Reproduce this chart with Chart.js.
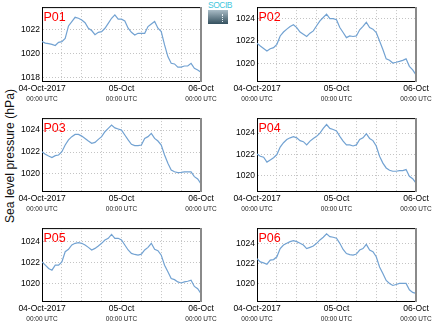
<!DOCTYPE html>
<html>
<head>
<meta charset="utf-8">
<script src="https://cdn.jsdelivr.net/npm/chart.js@4.4.0/dist/chart.umd.min.js"></script>
<style>
  html, body { margin: 0; padding: 0; background: #fff; }
  #wrap { position: relative; width: 435px; height: 327px; overflow: hidden;
          font-family: 'Liberation Sans', Arial, Helvetica, sans-serif; }
  #wrap canvas { position: absolute; }
  #ytitle { position: absolute; left: 9.5px; top: 156px; white-space: nowrap;
            font-size: 12.2px; color: #111; line-height: 1;
            transform: translate(-50%, -50%) rotate(-90deg); }
  #logo { position: absolute; left: 208px; top: 2px; width: 20px; }
  #logo .name { font-size: 8.5px; color: #3fc6dc; text-align: center;
                line-height: 7px; letter-spacing: -0.5px; }
  #logo .box { margin-top: 1px; height: 14px; position: relative;
               background: linear-gradient(#a9bcc6, #34505e); }
  #logo .box i { position: absolute; left: 14px; top: 4px; height: 8px;
                 border-left: 1px dotted #e8f0f4; }
</style>
</head>
<body>
<div id="wrap">
  <div id="ytitle">Sea level pressure (hPa)</div>
  <div id="logo"><div class="name">SOCIB</div><div class="box"><i></i></div></div>
</div>
<script>
// Hours since 04-Oct-2017 00:00 UTC
const hours = [0,1,2,3,4,5,6,7,8,9,10,11,12,13,14,15,16,17,18,19,20,21,22,23,24,
               25,26,27,28,29,30,31,32,33,34,35,36,37,38,39,40,41,42,43,44,45,46,47,48];

// Hourly sea level pressure (hPa) at each station
const p01 = [1021.03,1020.90,1020.86,1020.80,1020.70,1020.97,1021.03,1021.30,1022.33,1022.70,
             1023.05,1022.97,1022.83,1022.60,1022.14,1021.95,1021.60,1021.80,1021.86,1022.14,
             1022.55,1022.97,1023.25,1022.90,1022.90,1022.75,1022.14,1021.80,1021.58,1021.72,
             1021.72,1021.72,1022.28,1022.50,1022.70,1022.14,1021.86,1020.75,1019.78,1019.22,
             1019.17,1018.90,1018.90,1019.00,1019.00,1019.22,1018.80,1018.67,1018.47];
const p02 = [1021.79,1021.55,1021.33,1021.10,1021.30,1021.40,1021.70,1022.45,1022.80,1023.06,
             1023.30,1023.45,1023.20,1022.80,1022.60,1022.40,1022.70,1022.90,1023.36,1023.80,
             1024.10,1024.40,1024.00,1024.00,1023.90,1023.20,1022.76,1022.30,1022.45,1022.40,
             1022.45,1023.00,1023.30,1023.67,1023.20,1023.06,1022.76,1022.00,1021.24,1020.40,
             1020.27,1020.03,1020.10,1020.18,1020.27,1020.40,1019.73,1019.42,1018.97];
const p03 = [1022.03,1021.80,1021.64,1021.50,1021.67,1021.73,1022.03,1022.64,1023.10,1023.40,
             1023.60,1023.60,1023.45,1023.24,1023.00,1022.80,1022.88,1023.15,1023.40,1023.85,
             1024.15,1024.45,1024.20,1024.10,1024.00,1023.55,1023.10,1022.70,1022.58,1022.58,
             1022.64,1023.24,1023.40,1023.70,1023.24,1023.00,1022.64,1021.73,1020.97,1020.36,
             1020.20,1020.12,1020.15,1020.20,1020.20,1020.20,1019.76,1019.55,1019.10];
const p04 = [1022.06,1021.84,1021.75,1021.30,1021.50,1021.70,1022.00,1022.70,1023.10,1023.40,
             1023.56,1023.66,1023.56,1023.30,1023.20,1022.90,1023.25,1023.50,1023.70,1024.00,
             1024.44,1024.80,1024.44,1024.34,1024.20,1023.70,1023.25,1022.90,1022.90,1022.80,
             1022.90,1023.40,1023.56,1023.94,1023.50,1023.30,1022.80,1021.84,1021.20,1020.75,
             1020.53,1020.44,1020.44,1020.50,1020.50,1020.60,1019.97,1019.75,1019.34];
const p05 = [1022.06,1021.74,1021.42,1021.26,1021.74,1021.74,1022.06,1023.03,1023.26,1023.68,
             1023.84,1023.90,1023.84,1023.68,1023.45,1023.20,1023.35,1023.58,1023.84,1024.16,
             1024.32,1024.70,1024.32,1024.32,1024.16,1023.68,1023.20,1022.87,1022.77,1022.70,
             1022.80,1023.20,1023.45,1023.84,1023.26,1023.13,1022.70,1021.74,1021.10,1020.45,
             1020.35,1020.13,1020.03,1020.13,1020.20,1020.30,1019.70,1019.48,1019.00];
const p06 = [1022.50,1022.17,1022.07,1021.93,1022.34,1022.40,1022.68,1023.50,1023.86,1024.03,
             1024.20,1024.30,1024.20,1024.03,1023.86,1023.50,1023.63,1023.76,1024.03,1024.37,
             1024.64,1024.98,1024.70,1024.64,1024.54,1024.03,1023.42,1023.00,1022.90,1022.85,
             1022.95,1023.36,1023.50,1023.93,1023.36,1023.20,1022.68,1021.66,1021.00,1020.30,
             1020.00,1019.80,1019.90,1020.00,1020.00,1020.00,1019.36,1019.10,1019.00];

const stationNames = ['P01', 'P02', 'P03', 'P04', 'P05', 'P06'];
const stationSeries = [p01, p02, p03, p04, p05, p06];
const yMins = [1017.75, 1018.42, 1018.45, 1018.60, 1018.30, 1018.24];
const yMaxs = [1023.90, 1025.03, 1025.09, 1025.40, 1025.30, 1025.56];

// Bottom axis labels: date on the first line, time on the second
const dayLabels = { 0: '04-Oct-2017', 24: '05-Oct', 48: '06-Oct' };
const timeLabel = '00:00 UTC';

const FONT = "'Liberation Sans', Arial, Helvetica, sans-serif";
const LINE = '#72a2d2';

// Frame (top black, right grey) and the red station tag
const framePlugin = {
  id: 'frame',
  afterDraw(chart, args, opts) {
    const { ctx, chartArea: a } = chart;
    ctx.save();
    ctx.strokeStyle = '#000';
    ctx.lineWidth = 1;
    ctx.beginPath();
    ctx.moveTo(a.left, a.top + 0.5);
    ctx.lineTo(a.right, a.top + 0.5);
    ctx.stroke();
    ctx.strokeStyle = '#8a8a8a';
    ctx.lineWidth = 2;
    ctx.beginPath();
    ctx.moveTo(a.right, a.top);
    ctx.lineTo(a.right, a.bottom + 1);
    ctx.stroke();
    ctx.fillStyle = '#ff0000';
    ctx.font = '12.5px ' + FONT;
    ctx.textBaseline = 'alphabetic';
    ctx.textAlign = 'left';
    ctx.fillText(opts.name, a.left + 1.5, a.top + 14);
    ctx.restore();
  }
};

const wrap = document.getElementById('wrap');
const colLeft = [0, 215];
const rowTop = [0, 111, 221];
const rowHeight = [105, 104, 104];

stationSeries.forEach((series, i) => {
  const col = i % 2, row = Math.floor(i / 2);
  const canvas = document.createElement('canvas');
  canvas.width = 220;
  canvas.height = rowHeight[row];
  canvas.style.left = colLeft[col] + 'px';
  canvas.style.top = rowTop[row] + 'px';
  wrap.appendChild(canvas);

  new Chart(canvas, {
    type: 'line',
    data: {
      datasets: [{
        data: hours.map((h, k) => ({ x: h, y: series[k] })),
        borderColor: LINE,
        borderWidth: 1.2,
        pointRadius: 0,
        tension: 0,
        fill: false,
        xAxisID: 'x',
        yAxisID: 'y'
      }]
    },
    options: {
      responsive: false,
      animation: false,
      devicePixelRatio: 1,
      layout: { padding: { top: 7, right: 19, left: 0, bottom: 0 } },
      plugins: {
        legend: { display: false },
        tooltip: { enabled: false },
        frame: { name: stationNames[i] }
      },
      scales: {
        x: {
          type: 'linear',
          position: 'bottom',
          min: 0, max: 48,
          weight: 0,
          afterFit: s => { s.height = 13; },
          grid: { color: '#c4c4c4', lineWidth: 1, drawTicks: false },
          border: { display: true, color: '#000', width: 1, dash: [1, 2] },
          ticks: {
            stepSize: 6, autoSkip: false, maxRotation: 0, padding: 3,
            color: '#000', font: { family: FONT, size: 8.5 },
            callback: v => dayLabels[v] || ''
          }
        },
        x2: {
          type: 'linear',
          position: 'bottom',
          min: 0, max: 48,
          weight: 1,
          afterFit: s => { s.height = 11; },
          grid: { display: false, drawTicks: false },
          border: { display: false },
          ticks: {
            stepSize: 24, autoSkip: false, maxRotation: 0, padding: 1,
            color: '#222', font: { family: FONT, size: 6.5 },
            callback: () => timeLabel
          }
        },
        y: {
          type: 'linear',
          min: yMins[i], max: yMaxs[i],
          afterFit: s => { s.width = 42; },
          grid: { color: '#c4c4c4', lineWidth: 1, drawTicks: false },
          border: { display: true, color: '#000', width: 1, dash: [1, 2] },
          ticks: {
            stepSize: 2, includeBounds: false, padding: 2,
            color: '#000', font: { family: FONT, size: 8.5 },
            callback: v => String(v)
          }
        }
      }
    },
    plugins: [framePlugin]
  });
});
</script>
</body>
</html>
